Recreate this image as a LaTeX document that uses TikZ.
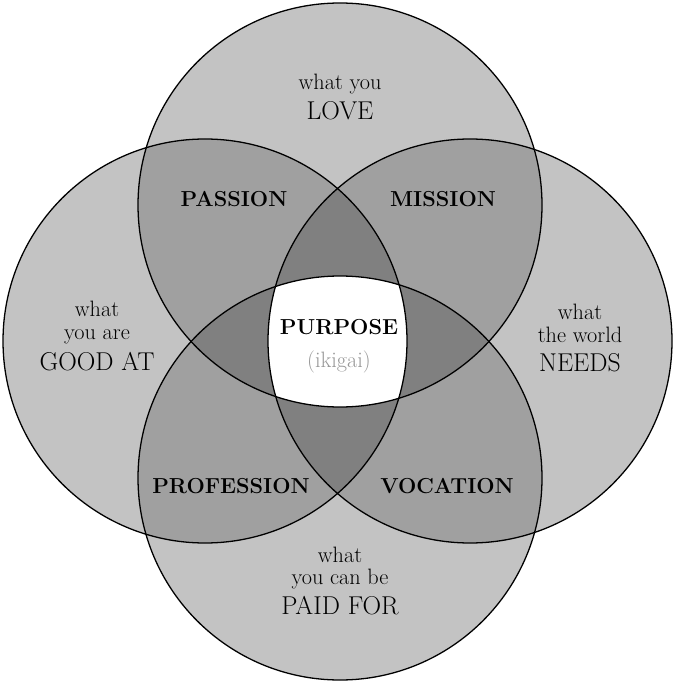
\documentclass[tikz,border=0pt]{standalone}
\usetikzlibrary{positioning}
\definecolor{onering}{HTML}{C3C3C3}
\definecolor{tworings}{HTML}{A0A0A0}
\definecolor{threerings}{HTML}{808080}
\definecolor{ikigaigray}{HTML}{979797}

\begin{document}
\begin{tikzpicture}[x=0.03cm,y=-0.03cm,
    ring/.style={draw,line width=1.1pt},
    what/.style={align=center,font=\fontsize{19}{19}\selectfont},
    zone/.style={font=\fontsize{18.5}{18}\selectfont\bfseries}]
  \useasboundingbox (0,0) rectangle (673,682);
  \def\rad{202}
  \coordinate (love) at (340,205);
  \coordinate (good) at (205,341);
  \coordinate (needs) at (470,341);
  \coordinate (paid) at (340,478);
  % discs, then the overlaps darker and darker
  \foreach \c in {love,good,needs,paid}
    \fill[onering] (\c) circle (\rad);
  \foreach \a/\b in {love/good,love/needs,love/paid,good/needs,good/paid,needs/paid}{
    \begin{scope}
      \clip (\a) circle (\rad);
      \fill[tworings] (\b) circle (\rad);
    \end{scope}}
  \foreach \a/\b/\c in {love/good/needs,love/good/paid,love/needs/paid,good/needs/paid}{
    \begin{scope}
      \clip (\a) circle (\rad);
      \clip (\b) circle (\rad);
      \fill[threerings] (\c) circle (\rad);
    \end{scope}}
  \begin{scope}
    \clip (love) circle (\rad);
    \clip (good) circle (\rad);
    \clip (needs) circle (\rad);
    \fill[white] (paid) circle (\rad);
  \end{scope}
  \foreach \c in {love,good,needs,paid}
    \draw[ring] (\c) circle (\rad);

  % labels
  \node[what] (lovetxt) at (340,97) {what you\\[6pt]{\fontsize{22}{22}\selectfont LOVE}};
  \node[what] (goodtxt) at (97,336) {what\\you are\\[6pt]{\fontsize{22}{22}\selectfont GOOD AT}};
  \node[what] (needstxt) at (580,338) {what\\the world\\[6pt]{\fontsize{22}{22}\selectfont NEEDS}};
  \node[what] (paidtxt) at (340,581) {what\\you can be\\[5pt]{\fontsize{22}{22}\selectfont PAID FOR}};
  \node[zone] (passion) at (234,199) {PASSION};
  \node[zone] (mission) at (443,199) {MISSION};
  \node[zone] (profession) at (231,486) {PROFESSION};
  \node[zone] (vocation) at (447,486) {VOCATION};
  \node[what] (purpose) at (339,346) {{\fontsize{18.5}{18}\selectfont\bfseries PURPOSE}\\[9pt]{\color{ikigaigray}(ikigai)}};
\end{tikzpicture}
\end{document}
